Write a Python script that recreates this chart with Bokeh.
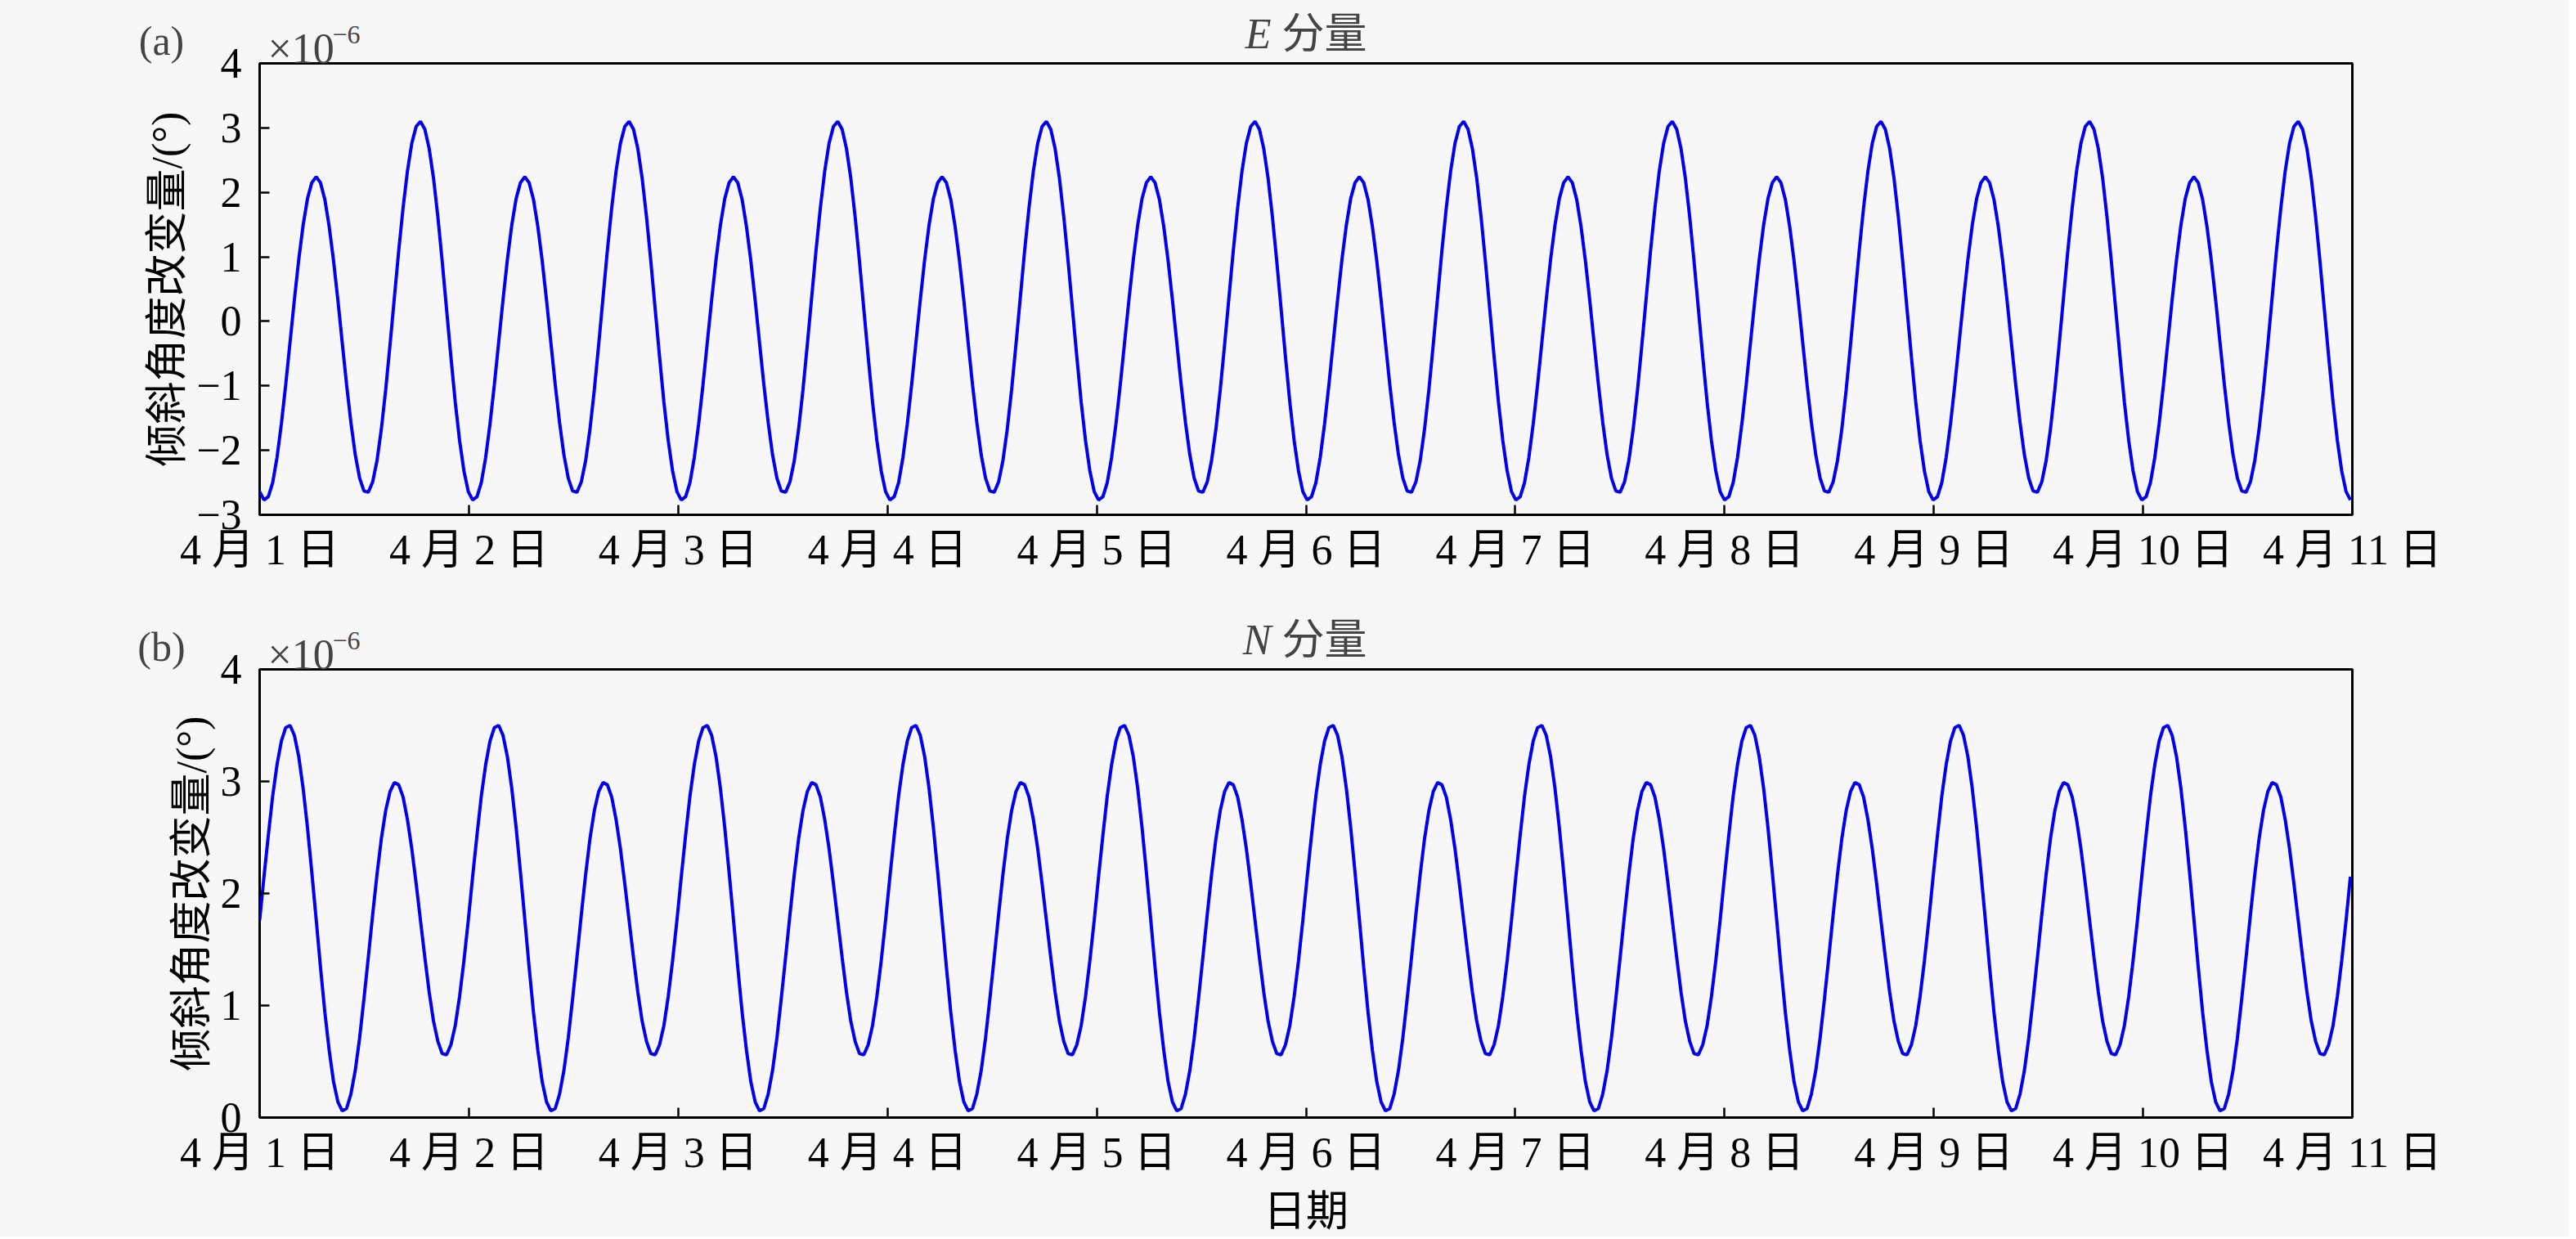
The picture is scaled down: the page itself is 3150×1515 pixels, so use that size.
import numpy as np
from bokeh.plotting import figure
from bokeh.layouts import column
from bokeh.models import Range1d, FixedTicker, Label
from bokeh.embed import file_html
from bokeh.resources import INLINE

# ---------------- data (one sample every ~29.9 min from 4月1日 00:00) ----------------
SAMPLE_STEP_HOURS = 0.4985
START_DAY = 1

# E component tilt change (x1e-6 deg)
E_TILT = [
    -2.64, -2.77, -2.72, -2.50, -2.11, -1.59, -0.98, -0.32, 0.34, 0.96, 1.49, 1.90, 2.15, 2.24, 2.15, 1.89, 1.47, 0.94, 0.33, -0.33, -0.98, -1.57, -2.07, -2.43,
    -2.63, -2.65, -2.49, -2.16, -1.67, -1.06, -0.36, 0.37, 1.10, 1.76, 2.33, 2.76, 3.02, 3.10, 2.98, 2.68, 2.22, 1.62, 0.93, 0.19, -0.55, -1.25, -1.85, -2.32,
    -2.64, -2.77, -2.72, -2.50, -2.11, -1.59, -0.98, -0.32, 0.34, 0.96, 1.49, 1.90, 2.15, 2.24, 2.15, 1.89, 1.47, 0.94, 0.33, -0.33, -0.98, -1.57, -2.07, -2.43,
    -2.63, -2.65, -2.49, -2.16, -1.67, -1.06, -0.36, 0.37, 1.10, 1.76, 2.33, 2.76, 3.02, 3.10, 2.98, 2.68, 2.22, 1.62, 0.93, 0.19, -0.55, -1.25, -1.85, -2.32,
    -2.64, -2.77, -2.72, -2.50, -2.11, -1.59, -0.98, -0.32, 0.34, 0.96, 1.49, 1.90, 2.15, 2.24, 2.15, 1.89, 1.47, 0.94, 0.33, -0.33, -0.98, -1.57, -2.07, -2.43,
    -2.63, -2.65, -2.49, -2.16, -1.67, -1.06, -0.36, 0.37, 1.10, 1.76, 2.33, 2.76, 3.02, 3.10, 2.98, 2.68, 2.22, 1.62, 0.93, 0.19, -0.55, -1.25, -1.85, -2.32,
    -2.64, -2.77, -2.72, -2.50, -2.11, -1.59, -0.98, -0.32, 0.34, 0.96, 1.49, 1.90, 2.15, 2.24, 2.15, 1.89, 1.47, 0.94, 0.33, -0.33, -0.98, -1.57, -2.07, -2.43,
    -2.63, -2.65, -2.49, -2.16, -1.67, -1.06, -0.36, 0.37, 1.10, 1.76, 2.33, 2.76, 3.02, 3.10, 2.98, 2.68, 2.22, 1.62, 0.93, 0.19, -0.55, -1.25, -1.85, -2.32,
    -2.64, -2.77, -2.72, -2.50, -2.11, -1.59, -0.98, -0.32, 0.34, 0.96, 1.49, 1.90, 2.15, 2.24, 2.15, 1.89, 1.47, 0.94, 0.33, -0.33, -0.98, -1.57, -2.07, -2.43,
    -2.63, -2.65, -2.49, -2.16, -1.67, -1.06, -0.36, 0.37, 1.10, 1.76, 2.33, 2.76, 3.02, 3.10, 2.98, 2.68, 2.22, 1.62, 0.93, 0.19, -0.55, -1.25, -1.85, -2.32,
    -2.64, -2.77, -2.72, -2.50, -2.11, -1.59, -0.98, -0.32, 0.34, 0.96, 1.49, 1.90, 2.15, 2.24, 2.15, 1.89, 1.47, 0.94, 0.33, -0.33, -0.98, -1.57, -2.07, -2.43,
    -2.63, -2.65, -2.49, -2.16, -1.67, -1.06, -0.36, 0.37, 1.10, 1.76, 2.33, 2.76, 3.02, 3.10, 2.98, 2.68, 2.22, 1.62, 0.93, 0.19, -0.55, -1.25, -1.85, -2.32,
    -2.64, -2.77, -2.72, -2.50, -2.11, -1.59, -0.98, -0.32, 0.34, 0.96, 1.49, 1.90, 2.15, 2.24, 2.15, 1.89, 1.47, 0.94, 0.33, -0.33, -0.98, -1.57, -2.07, -2.43,
    -2.63, -2.65, -2.49, -2.16, -1.67, -1.06, -0.36, 0.37, 1.10, 1.76, 2.33, 2.76, 3.02, 3.10, 2.98, 2.68, 2.22, 1.62, 0.93, 0.19, -0.55, -1.25, -1.85, -2.32,
    -2.64, -2.77, -2.72, -2.50, -2.11, -1.59, -0.98, -0.32, 0.34, 0.96, 1.49, 1.90, 2.15, 2.24, 2.15, 1.89, 1.47, 0.94, 0.33, -0.33, -0.98, -1.57, -2.07, -2.43,
    -2.63, -2.65, -2.49, -2.16, -1.67, -1.06, -0.36, 0.37, 1.10, 1.76, 2.33, 2.76, 3.02, 3.10, 2.98, 2.68, 2.22, 1.62, 0.93, 0.19, -0.55, -1.25, -1.85, -2.32,
    -2.64, -2.77, -2.72, -2.50, -2.11, -1.59, -0.98, -0.32, 0.34, 0.96, 1.49, 1.90, 2.15, 2.24, 2.15, 1.89, 1.47, 0.94, 0.33, -0.33, -0.98, -1.57, -2.07, -2.43,
    -2.63, -2.65, -2.49, -2.16, -1.67, -1.06, -0.36, 0.37, 1.10, 1.76, 2.33, 2.76, 3.02, 3.10, 2.98, 2.68, 2.22, 1.62, 0.93, 0.19, -0.55, -1.25, -1.85, -2.32,
    -2.64, -2.77, -2.72, -2.50, -2.11, -1.59, -0.98, -0.32, 0.34, 0.96, 1.49, 1.90, 2.15, 2.24, 2.15, 1.89, 1.47, 0.94, 0.33, -0.33, -0.98, -1.57, -2.07, -2.43,
    -2.63, -2.65, -2.49, -2.16, -1.67, -1.06, -0.36, 0.37, 1.10, 1.76, 2.33, 2.76, 3.02, 3.10, 2.98, 2.68, 2.22, 1.62, 0.93, 0.19, -0.55, -1.25, -1.85, -2.32,
    -2.64, -2.77,
]

# N component tilt change (x1e-6 deg)
N_TILT = [
    1.76, 2.15, 2.52, 2.87, 3.15, 3.36, 3.48, 3.50, 3.41, 3.22, 2.94, 2.59, 2.19, 1.77, 1.34, 0.94, 0.60, 0.32, 0.14, 0.06, 0.08, 0.21, 0.42, 0.71,
    1.06, 1.43, 1.81, 2.17, 2.49, 2.74, 2.91, 2.99, 2.97, 2.86, 2.66, 2.40, 2.09, 1.76, 1.43, 1.12, 0.86, 0.68, 0.57, 0.56, 0.65, 0.82, 1.08, 1.40,
    1.76, 2.15, 2.52, 2.87, 3.15, 3.36, 3.48, 3.50, 3.41, 3.22, 2.94, 2.59, 2.19, 1.77, 1.34, 0.94, 0.60, 0.32, 0.14, 0.06, 0.08, 0.21, 0.42, 0.71,
    1.06, 1.43, 1.81, 2.17, 2.49, 2.74, 2.91, 2.99, 2.97, 2.86, 2.66, 2.40, 2.09, 1.76, 1.43, 1.12, 0.86, 0.68, 0.57, 0.56, 0.65, 0.82, 1.08, 1.40,
    1.76, 2.15, 2.52, 2.87, 3.15, 3.36, 3.48, 3.50, 3.41, 3.22, 2.94, 2.59, 2.19, 1.77, 1.34, 0.94, 0.60, 0.32, 0.14, 0.06, 0.08, 0.21, 0.42, 0.71,
    1.06, 1.43, 1.81, 2.17, 2.49, 2.74, 2.91, 2.99, 2.97, 2.86, 2.66, 2.40, 2.09, 1.76, 1.43, 1.12, 0.86, 0.68, 0.57, 0.56, 0.65, 0.82, 1.08, 1.40,
    1.76, 2.15, 2.52, 2.87, 3.15, 3.36, 3.48, 3.50, 3.41, 3.22, 2.94, 2.59, 2.19, 1.77, 1.34, 0.94, 0.60, 0.32, 0.14, 0.06, 0.08, 0.21, 0.42, 0.71,
    1.06, 1.43, 1.81, 2.17, 2.49, 2.74, 2.91, 2.99, 2.97, 2.86, 2.66, 2.40, 2.09, 1.76, 1.43, 1.12, 0.86, 0.68, 0.57, 0.56, 0.65, 0.82, 1.08, 1.40,
    1.76, 2.15, 2.52, 2.87, 3.15, 3.36, 3.48, 3.50, 3.41, 3.22, 2.94, 2.59, 2.19, 1.77, 1.34, 0.94, 0.60, 0.32, 0.14, 0.06, 0.08, 0.21, 0.42, 0.71,
    1.06, 1.43, 1.81, 2.17, 2.49, 2.74, 2.91, 2.99, 2.97, 2.86, 2.66, 2.40, 2.09, 1.76, 1.43, 1.12, 0.86, 0.68, 0.57, 0.56, 0.65, 0.82, 1.08, 1.40,
    1.76, 2.15, 2.52, 2.87, 3.15, 3.36, 3.48, 3.50, 3.41, 3.22, 2.94, 2.59, 2.19, 1.77, 1.34, 0.94, 0.60, 0.32, 0.14, 0.06, 0.08, 0.21, 0.42, 0.71,
    1.06, 1.43, 1.81, 2.17, 2.49, 2.74, 2.91, 2.99, 2.97, 2.86, 2.66, 2.40, 2.09, 1.76, 1.43, 1.12, 0.86, 0.68, 0.57, 0.56, 0.65, 0.82, 1.08, 1.40,
    1.76, 2.15, 2.52, 2.87, 3.15, 3.36, 3.48, 3.50, 3.41, 3.22, 2.94, 2.59, 2.19, 1.77, 1.34, 0.94, 0.60, 0.32, 0.14, 0.06, 0.08, 0.21, 0.42, 0.71,
    1.06, 1.43, 1.81, 2.17, 2.49, 2.74, 2.91, 2.99, 2.97, 2.86, 2.66, 2.40, 2.09, 1.76, 1.43, 1.12, 0.86, 0.68, 0.57, 0.56, 0.65, 0.82, 1.08, 1.40,
    1.76, 2.15, 2.52, 2.87, 3.15, 3.36, 3.48, 3.50, 3.41, 3.22, 2.94, 2.59, 2.19, 1.77, 1.34, 0.94, 0.60, 0.32, 0.14, 0.06, 0.08, 0.21, 0.42, 0.71,
    1.06, 1.43, 1.81, 2.17, 2.49, 2.74, 2.91, 2.99, 2.97, 2.86, 2.66, 2.40, 2.09, 1.76, 1.43, 1.12, 0.86, 0.68, 0.57, 0.56, 0.65, 0.82, 1.08, 1.40,
    1.76, 2.15, 2.52, 2.87, 3.15, 3.36, 3.48, 3.50, 3.41, 3.22, 2.94, 2.59, 2.19, 1.77, 1.34, 0.94, 0.60, 0.32, 0.14, 0.06, 0.08, 0.21, 0.42, 0.71,
    1.06, 1.43, 1.81, 2.17, 2.49, 2.74, 2.91, 2.99, 2.97, 2.86, 2.66, 2.40, 2.09, 1.76, 1.43, 1.12, 0.86, 0.68, 0.57, 0.56, 0.65, 0.82, 1.08, 1.40,
    1.76, 2.15, 2.52, 2.87, 3.15, 3.36, 3.48, 3.50, 3.41, 3.22, 2.94, 2.59, 2.19, 1.77, 1.34, 0.94, 0.60, 0.32, 0.14, 0.06, 0.08, 0.21, 0.42, 0.71,
    1.06, 1.43, 1.81, 2.17, 2.49, 2.74, 2.91, 2.99, 2.97, 2.86, 2.66, 2.40, 2.09, 1.76, 1.43, 1.12, 0.86, 0.68, 0.57, 0.56, 0.65, 0.82, 1.08, 1.40,
    1.76, 2.15,
]

DAY_TICKS = [1, 2, 3, 4, 5, 6, 7, 8, 9, 10, 11]
DAY_LABELS = ["4 月 1 日", "4 月 2 日", "4 月 3 日", "4 月 4 日", "4 月 5 日", "4 月 6 日",
              "4 月 7 日", "4 月 8 日", "4 月 9 日", "4 月 10 日", "4 月 11 日"]
E_YTICKS = [-3, -2, -1, 0, 1, 2, 3, 4]
E_YLABELS = ["\u22123", "\u22122", "\u22121", "0", "1", "2", "3", "4"]
N_YTICKS = [0, 1, 2, 3, 4]
N_YLABELS = ["0", "1", "2", "3", "4"]
Y_TITLE = "倾斜角度改变量/(°)"
X_TITLE = "日期"

# ---------------- styling / layout ----------------
FONT = "Liberation Serif, Noto Sans CJK SC"
BG = "#f7f7f7"
FIG_W = 3142
FRAME_L = 317
FRAME_W = 2559
FRAME_R = FIG_W - FRAME_L - FRAME_W
X0, X1 = 1, 11


def make_panel(values, yticks, ylabels, ylo, yhi, height, btop, bbot, tag, letter, xlabel=None):
    p = figure(width=FIG_W, height=height, x_range=Range1d(X0, X1), y_range=Range1d(ylo, yhi),
               output_backend="svg", toolbar_location=None,
               min_border_left=FRAME_L, min_border_right=FRAME_R,
               min_border_top=btop, min_border_bottom=bbot,
               background_fill_color=BG, border_fill_color=BG)
    frame_h = height - btop - bbot

    x = START_DAY + np.arange(len(values)) * SAMPLE_STEP_HOURS / 24.0
    p.line(x, values, line_color="#0000ee", line_width=4)

    p.grid.visible = False
    p.outline_line_color = "black"
    p.outline_line_width = 3
    p.outline_line_alpha = 1

    for ax in (p.xaxis[0], p.yaxis[0]):
        ax.axis_line_color = None
        ax.major_tick_in = 12
        ax.major_tick_out = 0
        ax.major_tick_line_width = 2.5
        ax.major_tick_line_color = "black"
        ax.minor_tick_line_color = None
        ax.major_label_text_font = FONT
        ax.major_label_text_font_size = "52px"
        ax.major_label_text_color = "black"
        ax.axis_label_text_font = FONT
        ax.axis_label_text_font_size = "52px"
        ax.axis_label_text_font_style = "normal"
        ax.axis_label_text_color = "black"

    p.xaxis.ticker = FixedTicker(ticks=DAY_TICKS)
    p.xaxis.major_label_overrides = {t: s for t, s in zip(DAY_TICKS, DAY_LABELS)}
    p.xaxis.major_label_standoff = 14
    if xlabel:
        p.xaxis.axis_label = xlabel
        p.xaxis.axis_label_standoff = 12

    p.yaxis.ticker = FixedTicker(ticks=yticks)
    p.yaxis.major_label_overrides = {t: s for t, s in zip(yticks, ylabels)}
    p.yaxis.major_label_standoff = 22
    p.yaxis.axis_label = Y_TITLE
    p.yaxis.axis_label_standoff = 4

    # header texts: placed in the side panels (so they are not clipped by the frame),
    # positioned through the plot's scales, px offsets converted to data units
    dx = (X1 - X0) / FRAME_W
    dy = (yhi - ylo) / frame_h

    def xpx(page_px):
        return X0 + (page_px - FRAME_L) * dx

    def above(px):
        return yhi + px * dy

    def lab(side, xd, yd, text, size, align, baseline, style="normal"):
        p.add_layout(Label(x=xd, y=yd, text=text, text_font=FONT, text_font_size=size,
                           text_font_style=style, text_align=align, text_baseline=baseline), side)

    lab("left", xpx(197), above(28), tag, "50px", "center", "middle")
    lab("right", xpx(327), above(18), "×10", "52px", "left", "alphabetic")
    lab("right", xpx(406), above(35), "\u22126", "32px", "left", "alphabetic")
    lab("right", xpx(1554), above(36), letter, "52px", "right", "middle", "italic")
    lab("right", xpx(1567), above(36), "分量", "52px", "left", "middle")
    return p


pa = make_panel(E_TILT, E_YTICKS, E_YLABELS, -3, 4, 741, 77, 112, "(a)", "E")
pb = make_panel(N_TILT, N_YTICKS, N_YLABELS, 0, 4, 771, 77, 145, "(b)", "N", xlabel=X_TITLE)

layout = column(pa, pb, spacing=0, background=BG)
open("out.html", "w").write(file_html(layout, INLINE))
